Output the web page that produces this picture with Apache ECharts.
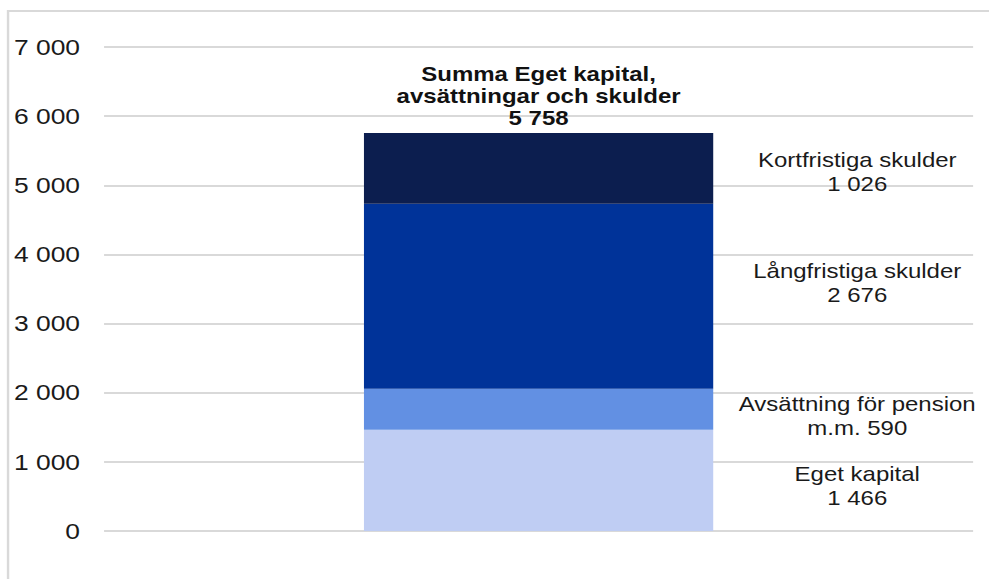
<!DOCTYPE html>
<html>
<head>
<meta charset="utf-8">
<script src="https://cdn.jsdelivr.net/npm/echarts@6/dist/echarts.min.js"></script>
<style>
  html, body { margin: 0; padding: 0; background: #ffffff; overflow: hidden; }
  #wrap { width: 989px; height: 579px; overflow: hidden; position: relative; }
  /* the chart is laid out narrow and widened horizontally */
  #chart { width: 824px; height: 579px; transform: scaleX(1.2002); transform-origin: 0 0; }
</style>
</head>
<body>
<div id="wrap"><div id="chart"></div></div>
<script>
// Balansräkning – eget kapital, avsättningar och skulder (mnkr)
const categories = ['Summa'];
const egetKapital = [1466];
const avsattningPension = [590];
const langfristigaSkulder = [2676];
const kortfristigaSkulder = [1026];
const yTicks = [0, 1000, 2000, 3000, 4000, 5000, 6000, 7000];

const seriesNames = ['Eget kapital', 'Avsättning för pension m.m.', 'Långfristiga skulder', 'Kortfristiga skulder'];
const seriesData = [egetKapital, avsattningPension, langfristigaSkulder, kortfristigaSkulder];
const seriesColors = ['#bfcdf3', '#6290e3', '#003399', '#0c1e4f'];
const labelTexts = [
  v => 'Eget kapital\n' + fmt(v),
  v => 'Avsättning för pension\nm.m. ' + fmt(v),
  v => 'Långfristiga skulder\n' + fmt(v),
  v => 'Kortfristiga skulder\n' + fmt(v)
];
const labelShiftY = [6, 7, -13, 4];

const total = seriesData.reduce((s, arr) => s + arr[0], 0);

function fmt(n) {
  return String(n).replace(/\B(?=(\d{3})+(?!\d))/g, ' ');
}

const chart = echarts.init(document.getElementById('chart'), null, { renderer: 'svg' });

const series = seriesData.map((data, i) => ({
  name: seriesNames[i],
  type: 'bar',
  stack: 'total',
  data: data,
  barWidth: 291,
  itemStyle: { color: seriesColors[i] },
  label: {
    show: true,
    position: [411, '50%'],
    align: 'center',
    verticalAlign: 'middle',
    offset: [0, labelShiftY[i]],
    fontFamily: 'Liberation Sans, Arial, sans-serif',
    fontSize: 20,
    lineHeight: 24,
    color: '#1a1a1a',
    formatter: p => labelTexts[i](p.value)
  }
}));

// total label above the stack
series.push({
  name: 'Summa',
  type: 'bar',
  stack: 'total',
  data: categories.map(() => 0),
  barWidth: 291,
  itemStyle: { color: 'transparent' },
  label: {
    show: true,
    position: 'top',
    distance: 4,
    align: 'center',
    fontFamily: 'Liberation Sans, Arial, sans-serif',
    fontSize: 20,
    fontWeight: 'bold',
    lineHeight: 22,
    color: '#111111',
    formatter: () => 'Summa Eget kapital,\navsättningar och skulder\n' + fmt(total)
  }
});

chart.setOption({
  animation: false,
  backgroundColor: '#ffffff',
  grid: { left: 86.7, right: 13.2, top: 47, bottom: 48 },
  xAxis: {
    type: 'category',
    data: categories,
    axisLine: { show: false },
    axisTick: { show: false },
    axisLabel: { show: false }
  },
  yAxis: {
    type: 'value',
    min: yTicks[0],
    max: yTicks[yTicks.length - 1],
    interval: yTicks[1] - yTicks[0],
    axisLine: { show: false },
    axisTick: { show: false },
    axisLabel: {
      margin: 20,
      fontFamily: 'Liberation Sans, Arial, sans-serif',
      fontSize: 22,
      color: '#1a1a1a',
      formatter: v => fmt(v)
    },
    splitLine: { lineStyle: { color: '#d9d9d9', width: 2 } }
  },
  graphic: [{
    type: 'rect',
    silent: true,
    shape: { x: 6.7, y: 11, width: 900, height: 700 },
    style: { fill: 'none', stroke: '#d9d9d9', lineWidth: 2 }
  }],
  series: series
});
</script>
</body>
</html>
